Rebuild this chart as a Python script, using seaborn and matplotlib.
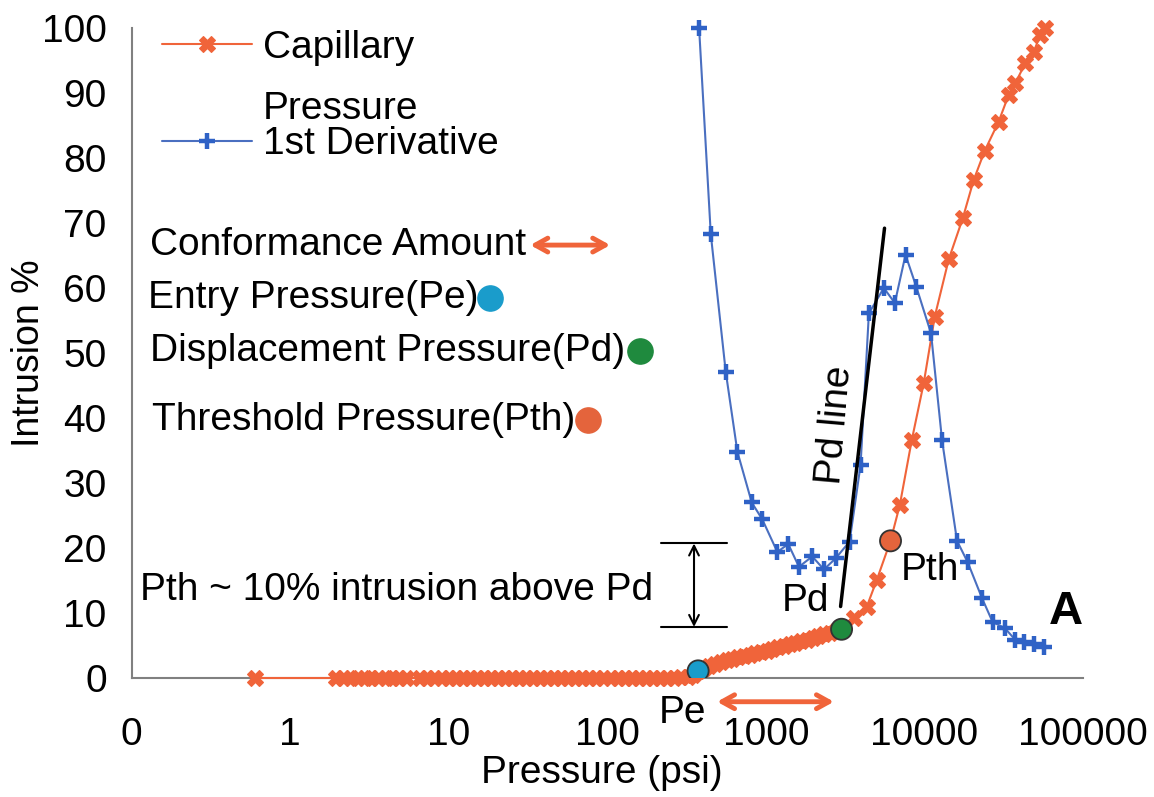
import matplotlib
matplotlib.use("Agg")
import matplotlib.pyplot as plt
from matplotlib.lines import Line2D
import seaborn as sns
import numpy as np

# ---------------- data ----------------
cap_p = [0.6, 1.95, 2.15, 2.4, 2.65, 2.95, 3.25, 3.6, 4.0, 4.4, 4.85, 5.35,
         6.6, 7.3, 8.1, 9.0, 10.0, 11.1, 12.3, 13.6, 15.1, 16.7, 18.5, 20.5,
         22.7, 25.1, 27.8, 30.8, 34.1, 37.8, 41.8, 46.3, 51.3, 56.8, 62.9, 69.6,
         77.1, 85.4, 94.5, 104.7, 115.9, 128.3, 142.1, 157.3, 174.2, 192.9,
         213.6, 236.5, 261.9, 290, 321, 348,
         373.6, 405, 440, 478, 520, 565, 614, 667, 725, 788, 857, 931, 1012,
         1100, 1196, 1300, 1413, 1536, 1670, 1815, 1973, 2145, 2331, 2534, 2754,
         3001, 3588, 4332, 5006, 6109, 6988, 8318, 9899, 11612, 14223, 17424,
         20432, 23973, 29376, 33952, 37411, 43251, 48776, 53770, 57810]
cap_y = [0, 0, 0, 0, 0, 0, 0, 0, 0, 0, 0, 0,
         0, 0, 0, 0, 0, 0, 0, 0, 0, 0, 0, 0,
         0, 0, 0, 0, 0, 0, 0, 0, 0, 0, 0, 0,
         0, 0, 0, 0, 0, 0, 0, 0, 0, 0,
         0, 0, 0, 0.1, 0.2, 0.4,
         1.1, 1.5, 1.9, 2.2, 2.5, 2.7, 3.0, 3.2, 3.4, 3.6, 3.8, 4.0, 4.2,
         4.5, 4.7, 4.9, 5.2, 5.4, 5.7, 5.9, 6.2, 6.5, 6.8, 7.0, 7.3,
         7.5, 9.2, 11.0, 15.1, 21.1, 26.6, 36.6, 45.4, 55.6, 64.4, 70.7,
         76.6, 81.1, 85.6, 89.7, 91.5, 94.6, 96.3, 98.9, 100.0]

der_p = [379, 449, 558, 661, 814, 949, 1180, 1384, 1616, 1960, 2322, 2752,
         3371, 3954, 4461, 5541, 6502, 7594, 8905, 11005, 12905, 16045, 18740,
         23050, 26920, 32040, 37310, 42210, 48790, 56390]
der_y = [100, 68.3, 47.1, 34.8, 27.0, 24.4, 19.4, 20.6, 17.1, 18.7, 16.7, 18.4,
         21.0, 32.8, 56.1, 60.0, 57.7, 65.1, 60.1, 53.0, 36.6, 21.1, 17.8,
         12.3, 8.6, 7.7, 5.9, 5.6, 5.3, 4.7]

# key pressures: Pe, Pd, Pth
key_names = ["Pe", "Pd", "Pth"]
key_p = [373.6, 3001, 6109]
key_y = [1.1, 7.5, 21.1]

# Pd line end points
pdline_p = [2958, 5598]
pdline_y = [11.0, 69.2]

# conformance amount arrow (below axis) and 10% bracket
conf_p = [492, 2685]
conf_y = -3.65
bracket_p = [217.5, 571]
bracket_x = 352
bracket_y = [7.85, 20.7]

xticks = [0.1, 1, 10, 100, 1000, 10000, 100000]
xticklabels = ["0", "1", "10", "100", "1000", "10000", "100000"]
yticks = list(range(0, 101, 10))

# ---------------- style ----------------
sns.set_style("white")
plt.rcParams['font.family'] = ['Liberation Sans', 'DejaVu Sans']
plt.rcParams['text.color'] = 'black'
plt.rcParams['xtick.color'] = '#404040'
plt.rcParams['ytick.color'] = '#808080'
plt.rcParams['xtick.labelcolor'] = 'black'
plt.rcParams['ytick.labelcolor'] = 'black'
plt.rcParams['axes.labelcolor'] = 'black'

FS = 28
ORANGE = "#F0643A"
BLUE = "#2F62C6"
BLUE_LINE = "#4A6FC0"
PE_C = "#1A9CCB"
PD_C = "#1F8A3E"
PTH_C = "#E4643C"
GRAY = "#808080"

fig = plt.figure(figsize=(11.54, 7.97), dpi=100)
ax = fig.add_axes([0.1141, 0.1493, 0.8244, 0.8156])

cap_style = dict(color=ORANGE, lw=1.5, marker="X", markersize=11,
                 markeredgewidth=0.8, markeredgecolor=ORANGE, markerfacecolor=ORANGE)
der_style = dict(color=BLUE_LINE, lw=1.5, marker="+", markersize=12,
                 markeredgewidth=3.2, markeredgecolor=BLUE)

sns.lineplot(x=cap_p, y=cap_y, ax=ax, estimator=None, sort=False, **cap_style)
sns.lineplot(x=der_p, y=der_y, ax=ax, estimator=None, sort=False, **der_style)
for ln in ax.get_lines():
    ln.set_clip_on(False)

ax.set_xscale("log")
ax.set_xlim(0.1, 100000)
ax.set_ylim(0, 100)
ax.set_xticks(xticks)
ax.set_xticklabels(xticklabels)
ax.minorticks_off()
ax.set_yticks(yticks)

for s in ["top", "right"]:
    ax.spines[s].set_visible(False)
for s in ["left", "bottom"]:
    ax.spines[s].set_color(GRAY)
    ax.spines[s].set_linewidth(1.5)
    ax.spines[s].set_zorder(0)

ax.tick_params(axis="x", direction="inout", length=12, width=1.3,
               labelsize=FS, pad=22)
ax.tick_params(axis="y", direction="inout", length=12, width=1.0,
               labelsize=FS, pad=12)
ax.set_xlabel("Pressure (psi)", fontsize=FS)
ax.set_ylabel("Intrusion %", fontsize=27)
ax.xaxis.set_label_coords(0.494, -0.118)
ax.yaxis.set_label_coords(-0.089, 0.50)

# key points
cols = [PE_C, PD_C, PTH_C]
sns.scatterplot(x=key_p, y=key_y, ax=ax, hue=key_names, palette=cols, s=230,
                edgecolor="#333333", linewidth=1.3, legend=False, zorder=5)

# Pd line
ax.plot(pdline_p, pdline_y, color="black", lw=2.5, zorder=4)

# conformance arrow below axis
ax.annotate("", xy=(conf_p[0], conf_y), xytext=(conf_p[1], conf_y),
            xycoords="data", annotation_clip=False,
            arrowprops=dict(arrowstyle="<->,head_length=0.9,head_width=0.5",
                            color=ORANGE, lw=3.5, shrinkA=0, shrinkB=0))

# bracket for 10%
for yv in bracket_y:
    ax.plot(bracket_p, [yv, yv], color="black", lw=1.5)
ax.annotate("", xy=(bracket_x, bracket_y[0]), xytext=(bracket_x, bracket_y[1]),
            arrowprops=dict(arrowstyle="<->,head_length=0.7,head_width=0.35",
                            color="black", lw=1.5, shrinkA=0, shrinkB=0))

# legend
h_cap = Line2D([], [], **cap_style)
h_blank = Line2D([], [], color="none")
h_der = Line2D([], [], **der_style)
leg1 = ax.legend([h_cap, h_blank], ["Capillary", "Pressure"], loc="upper left",
                 bbox_to_anchor=(0.032, 0.997), frameon=False, fontsize=FS,
                 handlelength=2.3, handletextpad=0.3, labelspacing=0.65,
                 borderpad=0, borderaxespad=0)
ax.add_artist(leg1)
ax.legend([h_der], ["1st Derivative"], loc="upper left",
          bbox_to_anchor=(0.032, 0.849), frameon=False, fontsize=FS,
          handlelength=2.3, handletextpad=0.3, borderpad=0, borderaxespad=0)

# text annotations (axes fraction)
T = ax.transAxes
ax.text(0.019, 0.666, "Conformance Amount", transform=T, fontsize=FS, va="center")
ax.annotate("", xy=(0.419, 0.666), xytext=(0.503, 0.666), xycoords=T, textcoords=T,
            arrowprops=dict(arrowstyle="<->,head_length=0.9,head_width=0.5",
                            color=ORANGE, lw=3.5, shrinkA=0, shrinkB=0))
ax.text(0.017, 0.585, "Entry Pressure(Pe)", transform=T, fontsize=FS, va="center")
ax.scatter([0.3766], [0.585], transform=T, s=330, color=PE_C, zorder=6, clip_on=False)
ax.text(0.019, 0.503, "Displacement Pressure(Pd)", transform=T, fontsize=FS, va="center")
ax.scatter([0.534], [0.503], transform=T, s=330, color=PD_C, zorder=6, clip_on=False)
ax.text(0.0215, 0.397, "Threshold Pressure(Pth)", transform=T, fontsize=FS, va="center")
ax.scatter([0.480], [0.397], transform=T, s=330, color=PTH_C, zorder=6, clip_on=False)

ax.text(0.0088, 0.135, "Pth ~ 10% intrusion above Pd", transform=T, fontsize=FS,
        va="center")
ax.text(0.5794, -0.054, "Pe", transform=T, fontsize=FS, ha="center", va="center")
ax.text(0.708, 0.118, "Pd", transform=T, fontsize=FS, ha="center", va="center")
ax.text(0.839, 0.166, "Pth", transform=T, fontsize=FS, ha="center", va="center")
ax.text(0.982, 0.1015, "A", transform=T, fontsize=34, fontweight="bold",
        ha="center", va="center")
ax.text(0.739, 0.389, "Pd line", transform=T, fontsize=FS, ha="center",
        va="center", rotation=85)

fig.savefig("out.png", dpi=100)
